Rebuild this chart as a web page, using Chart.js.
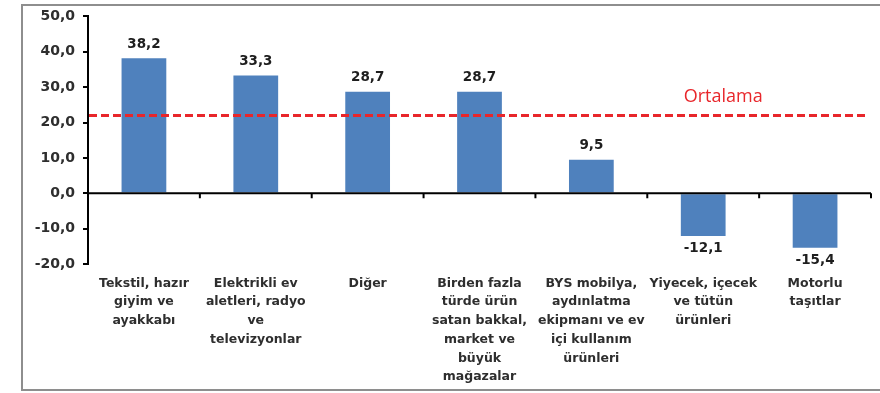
<!DOCTYPE html>
<html>
<head>
<meta charset="utf-8">
<script src="https://cdn.jsdelivr.net/npm/chart.js@4/dist/chart.umd.min.js"></script>
<style>
  body { margin: 0; background: #fff; }
  #wrap { position: relative; width: 880px; height: 393px; overflow: hidden; }
  #frame { position: absolute; left: 21px; top: 4px; width: 900px; height: 383px; border: 2px solid #8e8e8e; }
  #chart { position: absolute; left: 0; top: 0; }
</style>
</head>
<body>
<div id="wrap">
  <div id="frame"></div>
  <canvas id="chart" width="880" height="393"></canvas>
</div>
<script>
var categories = [
  ['Tekstil, hazır', 'giyim ve', 'ayakkabı'],
  ['Elektrikli ev', 'aletleri, radyo', 've', 'televizyonlar'],
  ['Diğer'],
  ['Birden fazla', 'türde ürün', 'satan bakkal,', 'market ve', 'büyük', 'mağazalar'],
  ['BYS mobilya,', 'aydınlatma', 'ekipmanı ve ev', 'içi kullanım', 'ürünleri'],
  ['Yiyecek, içecek', 've tütün', 'ürünleri'],
  ['Motorlu', 'taşıtlar']
];
var values = [38.2, 33.3, 28.7, 28.7, 9.5, -12.1, -15.4];
var average = 22.0;
var averageLabel = 'Ortalama';
var yTicks = [50, 40, 30, 20, 10, 0, -10, -20];

function fmt(v) {
  return v.toFixed(1).replace('.', ',');
}

// zero line with category tick marks, average line, value labels
var extras = {
  id: 'extras',
  afterDatasetsDraw: function (chart) {
    var ctx = chart.ctx;
    var x = chart.scales.x, y = chart.scales.y;
    var area = chart.chartArea;
    var y0 = y.getPixelForValue(0);

    ctx.save();
    ctx.strokeStyle = '#000';
    ctx.lineWidth = 2;
    ctx.beginPath();
    ctx.moveTo(area.left, y0);
    ctx.lineTo(area.right, y0);
    for (var i = 1; i <= categories.length; i++) {
      var bx = area.left + (area.right - area.left) * i / categories.length;
      ctx.moveTo(bx, y0);
      ctx.lineTo(bx, y0 + 5);
    }
    ctx.stroke();

    // average
    var ya = y.getPixelForValue(average);
    ctx.strokeStyle = '#e8262b';
    ctx.lineWidth = 3;
    ctx.setLineDash([8, 4]);
    ctx.beginPath();
    ctx.moveTo(area.left + 1, ya);
    ctx.lineTo(area.right - 6, ya);
    ctx.stroke();
    ctx.setLineDash([]);

    ctx.fillStyle = '#e8262b';
    ctx.font = '18px "Open Sans"';
    ctx.textAlign = 'center';
    ctx.textBaseline = 'middle';
    ctx.fillText(averageLabel, x.getPixelForValue(5) + 20, ya - 19);

    // value labels
    ctx.fillStyle = '#1e1e1e';
    ctx.font = 'bold 13.5px "DejaVu Sans"';
    chart.getDatasetMeta(0).data.forEach(function (bar, i) {
      var v = values[i];
      if (v >= 0) {
        ctx.textBaseline = 'bottom';
        ctx.fillText(fmt(v), bar.x, bar.y - 7);
      } else {
        ctx.textBaseline = 'top';
        ctx.fillText(fmt(v), bar.x, bar.y + 6);
      }
    });
    ctx.restore();
  }
};

new Chart(document.getElementById('chart'), {
  type: 'bar',
  data: {
    labels: categories,
    datasets: [{
      data: values,
      backgroundColor: '#4f81bd',
      barPercentage: 0.8,
      categoryPercentage: 0.5
    }]
  },
  options: {
    responsive: false,
    animation: false,
    layout: { padding: { left: 22, top: 16, right: 9, bottom: 0 } },
    plugins: { legend: { display: false }, tooltip: { enabled: false } },
    scales: {
      x: {
        grid: { display: false, drawTicks: false },
        border: { display: false },
        ticks: {
          autoSkip: false,
          maxRotation: 0,
          padding: 10,
          color: '#2e2e2e',
          font: { family: 'DejaVu Sans', size: 12.5, weight: 'bold', lineHeight: 1.5 }
        },
        afterFit: function (scale) { scale.height = 129; }
      },
      y: {
        min: -20,
        max: 50,
        afterBuildTicks: function (scale) {
          scale.ticks = yTicks.map(function (v) { return { value: v }; });
        },
        grid: { drawOnChartArea: false, drawTicks: true, tickLength: 5, color: '#000', lineWidth: 2 },
        border: { color: '#000', width: 2 },
        ticks: {
          padding: 8,
          color: '#2e2e2e',
          font: { family: 'DejaVu Sans', size: 14, weight: 'bold' },
          callback: function (v) { return fmt(v); }
        },
        afterFit: function (scale) { scale.width = 66; }
      }
    }
  },
  plugins: [extras]
});
</script>
</body>
</html>
